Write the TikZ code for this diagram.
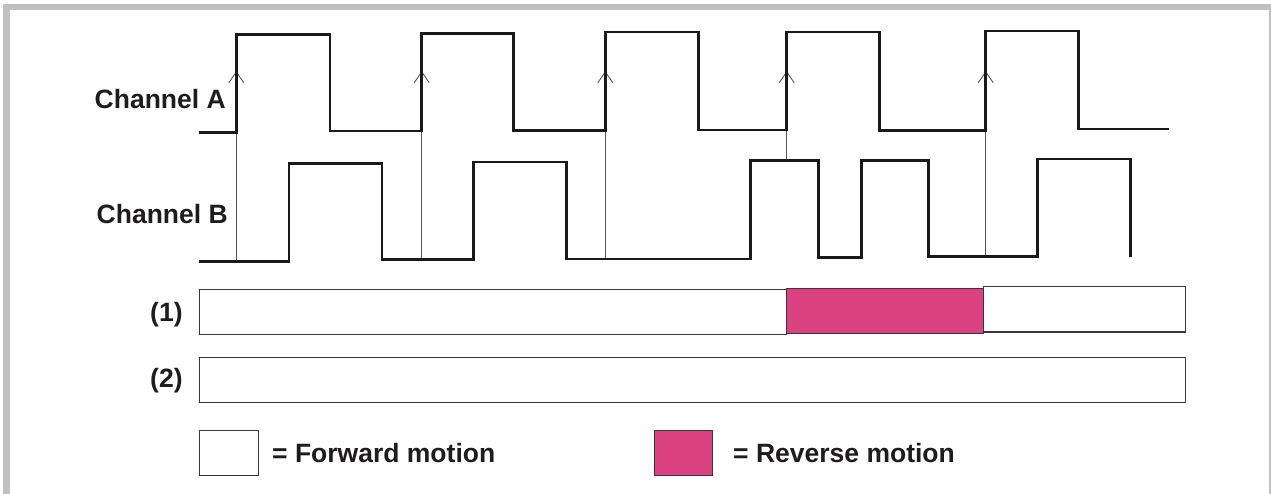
\documentclass[tikz,border=0pt]{standalone}
\usepackage{fontspec}
\setmainfont{Liberation Sans}
\usetikzlibrary{arrows.meta}
\definecolor{framegray}{RGB}{192,192,192}
\definecolor{sig}{RGB}{26,24,24}
\definecolor{guide}{RGB}{85,85,85}
\definecolor{barline}{RGB}{55,55,55}
\definecolor{revpink}{RGB}{220,66,130}
\definecolor{txt}{RGB}{30,28,28}
\tikzset{
  signal/.style={draw=sig, line width=2.7pt, line join=miter, line cap=butt},
  guideline/.style={draw=guide, line width=0.9pt, -{Straight Barb[length=11pt,width=15pt]}},
  barbox/.style={draw=barline, line width=1.3pt},
  lbl/.style={font=\fontsize{26.5}{31}\selectfont\bfseries, text=txt, inner sep=0pt, anchor=base west},
}
\begin{document}
\begin{tikzpicture}[x=1pt,y=-1pt]
\useasboundingbox (0,0) rectangle (1271,494);
\clip (0,0) rectangle (1271,494);
\fill[white] (0,0) rectangle (1271,494);
% frame
\draw[framegray, line width=6.6pt] (6.7,7) rectangle (1272.6,510);

% guide arrows at rising edges of channel A
\coordinate (g1b) at (236.3,261.3); \coordinate (g1t) at (236.3,71);
\coordinate (g2b) at (421.7,259.3); \coordinate (g2t) at (421.7,71);
\coordinate (g3b) at (605.3,259);   \coordinate (g3t) at (605.3,71);
\coordinate (g4b) at (786.7,160.7); \coordinate (g4t) at (786.7,71);
\coordinate (g5b) at (985.7,256.7); \coordinate (g5t) at (985.7,71);
\foreach \i in {1,...,5} \draw[guideline] (g\i b) -- (g\i t);

% channel A
\draw[signal] (199,132.7) -- (236.3,132.7) -- (236.3,34.3) -- (330,34.3) -- (330,131)
  -- (421.7,131) -- (421.7,33.3) -- (513.7,33.3) -- (513.7,130.7) -- (605.3,130.7)
  -- (605.3,32) -- (698.7,32) -- (698.7,130) -- (786.7,130) -- (786.7,32)
  -- (879.7,32) -- (879.7,130.3) -- (985.7,130.3) -- (985.7,31) -- (1078.7,31)
  -- (1078.7,129) -- (1169,129);

% channel B
\draw[signal] (199,261.3) -- (289,261.3) -- (289,163.3) -- (382,163.3) -- (382,259.3)
  -- (473.3,259.3) -- (473.3,162) -- (566.7,162) -- (566.7,259) -- (750.3,259)
  -- (750.3,160.7) -- (818.7,160.7) -- (818.7,257.7) -- (861.7,257.7) -- (861.7,160.3)
  -- (928.7,160.3) -- (928.7,256.7) -- (1037.7,256.7) -- (1037.7,159) -- (1130.7,159)
  -- (1130.7,257.3);

% labels
\node[lbl] (chA) at (94.5,109) {Channel A};
\node[lbl] (chB) at (96.5,224) {Channel B};
\node[lbl] (r1) at (150,321) {(1)};
\node[lbl] (r2) at (150,387.5) {(2)};

% bar (1)
\draw[barbox, fill=white] (199.3,289.3) rectangle (786.3,334.7);
\draw[barbox, fill=revpink] (786.3,288.3) rectangle (983.7,333.3);
\draw[barbox, fill=white] (983.7,286.3) rectangle (1185.3,332);
% bar (2)
\draw[barbox, fill=white] (199.3,357.3) rectangle (1185.3,402.7);

% legend
\draw[barbox, fill=white] (199.3,430.3) rectangle (258.7,475.7);
\node[lbl] (fwd) at (272,462.3) {= Forward motion};
\draw[barbox, fill=revpink] (654.3,430.3) rectangle (712.7,475.7);
\node[lbl] (rev) at (733,462.3) {= Reverse motion};
\end{tikzpicture}
\end{document}
